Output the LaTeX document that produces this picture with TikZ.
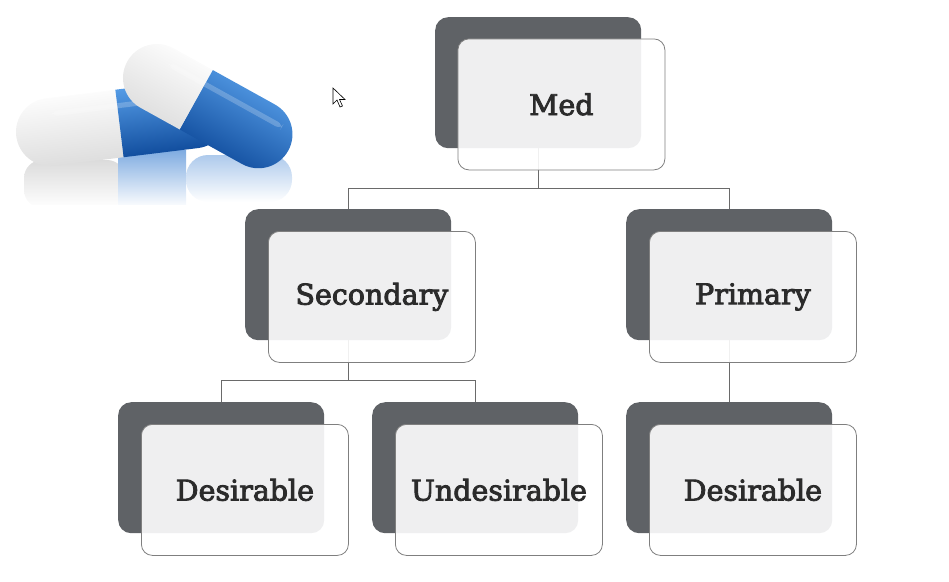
\documentclass[tikz,border=0pt]{standalone}
\usepackage{fontspec}
\setmainfont{DejaVu Serif}
\newfontfamily\boxfont[FakeBold=3]{DejaVu Serif}
\usetikzlibrary{fadings}
\definecolor{darkbx}{HTML}{5F6266}
\definecolor{frameln}{HTML}{7F7F7F}
\definecolor{connln}{HTML}{6A6A6A}
\definecolor{txtc}{HTML}{2B2B2B}
\definecolor{bluehi}{HTML}{5AA2EC}
\definecolor{bluemid}{HTML}{1667C8}
\definecolor{bluelo}{HTML}{0A4596}
\tikzset{
  darkbox/.style={draw=none, fill=darkbx, rounded corners=13pt, minimum width=206pt, minimum height=131pt, anchor=north west, inner sep=0pt},
  frontbox/.style={draw=frameln, line width=0.8pt, fill=white, fill opacity=0.9, text opacity=1, rounded corners=11pt, minimum width=207pt, minimum height=131pt, anchor=north west, inner sep=0pt, text=txtc, font=\boxfont\fontsize{28.5}{30}\selectfont},
  conn/.style={draw=connln, line width=0.8pt},
}
\newcommand\capsuleshape[6]{%
\begin{scope}[shift={(#1,#2)},rotate=#3]
  \shade[top color=white, middle color=white!94!gray, bottom color=white!72!gray, shading angle=#3]
    (#4,-#6) -- (0,-#6) arc[start angle=270,end angle=90,radius=#6] -- (#4,#6) -- cycle;
  \shade[top color=bluehi, middle color=bluemid, bottom color=bluelo, shading angle=#3]
    (#4,-#6) -- ({#4+#5},-#6) arc[start angle=-90,end angle=90,radius=#6] -- (#4,#6) -- cycle;
  \fill[white, opacity=0.22, rounded corners=6pt] (4,{0.45*#6}) rectangle ({#4+#5+0.5*#6},{0.6*#6});
\end{scope}}
\begin{document}
\begin{tikzpicture}[x=1pt,y=1pt]
\useasboundingbox (0,0) rectangle (949,-581);
% ---------- reflections of the pills
\shade[top color=gray!28, bottom color=white, rounded corners=18pt] (24,-160) rectangle (125,-208);
\shade[top color=bluemid!55, bottom color=white] (118,-150) rectangle (186,-208);
\shade[top color=bluemid!35, bottom color=white, rounded corners=22pt] (186,-155) rectangle (292,-202);
\fill[white] (0,-205) rectangle (300,-215);
% ---------- pills
\capsuleshape{50}{-132}{7}{70}{75}{34}
\capsuleshape{157}{-78}{-29}{45}{71}{34}
% ---------- cursor
\filldraw[fill=white, draw=black, line width=0.6pt, line join=miter]
  (333,-88) -- (333,-104) -- (337,-100) -- (340,-107) -- (342.5,-106) -- (339.5,-99.5) -- (345,-99.5) -- cycle;
% ---------- dark back boxes
\node[darkbox] (medD) at (435,-17) {};
\node[darkbox] (secD) at (245,-209) {};
\node[darkbox] (priD) at (626,-209) {};
\node[darkbox] (des1D) at (118,-402) {};
\node[darkbox] (undD) at (372,-402) {};
\node[darkbox] (des2D) at (626,-402) {};
% ---------- connectors
\draw[conn] (medD.south) -- ++(0,-40) -| (secD.north);
\draw[conn] (medD.south) -- ++(0,-40) -| (priD.north);
\draw[conn] (secD.south) -- ++(0,-40) -| (des1D.north);
\draw[conn] (secD.south) -- ++(0,-40) -| (undD.north);
\draw[conn] (priD.south) -- (des2D.north);
% ---------- front boxes
\node[frontbox] (med) at (457.5,-38.5) {Med};
\node[frontbox] (sec) at (268,-231) {Secondary};
\node[frontbox] (pri) at (649,-231) {Primary};
\node[frontbox] (des1) at (141,-424) {Desirable};
\node[frontbox] (und) at (395,-424) {Undesirable};
\node[frontbox] (des2) at (649,-424) {Desirable};
\end{tikzpicture}
\end{document}
